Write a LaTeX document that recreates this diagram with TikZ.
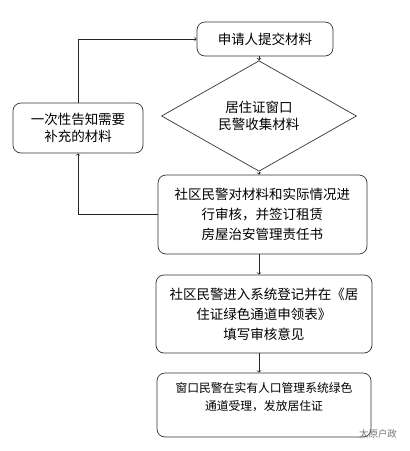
\documentclass[tikz,border=0pt]{standalone}
\usepackage{fontspec}
\setmainfont{Noto Sans CJK SC}
\usetikzlibrary{shapes.geometric}

\begin{document}
\begin{tikzpicture}[x=1pt,y=-1pt,->,line width=0.7pt,draw=black!85]
    \tikzstyle{box}=[rectangle,rounded corners=8pt,draw=black!80,fill=white,align=center,inner sep=2pt,font=\fontsize{13.5}{20}\selectfont]
    \tikzstyle{check}=[diamond,draw=black!80,fill=white,align=center,inner sep=0pt,font=\fontsize{13.5}{17}\selectfont]
    \useasboundingbox (0,0) rectangle (410,451);

    \node[box,minimum width=136pt,minimum height=34pt] (submit) at (265,39) {申请人提交材料};
    \node[check,minimum width=195pt,minimum height=78pt] (collect) at (259,116) {居住证窗口\\民警收集材料};
    \node[box,minimum width=130pt,minimum height=50pt,font=\fontsize{13.5}{17}\selectfont] (notify) at (78,128) {一次性告知需要\\补充的材料};
    \node[box,minimum width=209pt,minimum height=79pt] (review) at (262.5,214.5) {社区民警对材料和实际情况进\\行审核，并签订租赁\\房屋治安管理责任书};
    \node[box,minimum width=216pt,minimum height=78pt] (register) at (264,314) {社区民警进入系统登记并在《居\\住证绿色通道申领表》\\填写审核意见};
    \node[box,minimum width=214pt,minimum height=64pt,font=\fontsize{11.8}{18}\selectfont] (issue) at (264,405) {窗口民警在实有人口管理系统绿色\\通道受理，发放居住证\\~};
    \node[font=\fontsize{9.5}{10}\selectfont,text=black!55] (mark) at (378,434) {太原户政};

    \draw (collect.north |- submit.south) -- (collect.north);
    \draw (collect.south) -- (collect.south |- review.north);
    \draw (review.south -| collect.south) -- (collect.south |- register.north);
    \draw (register.south -| collect.south) -- (collect.south |- issue.north);
    \draw (review.west) -| (notify.south);
    \draw (notify.north) |- (submit.west);
\end{tikzpicture}
\end{document}
